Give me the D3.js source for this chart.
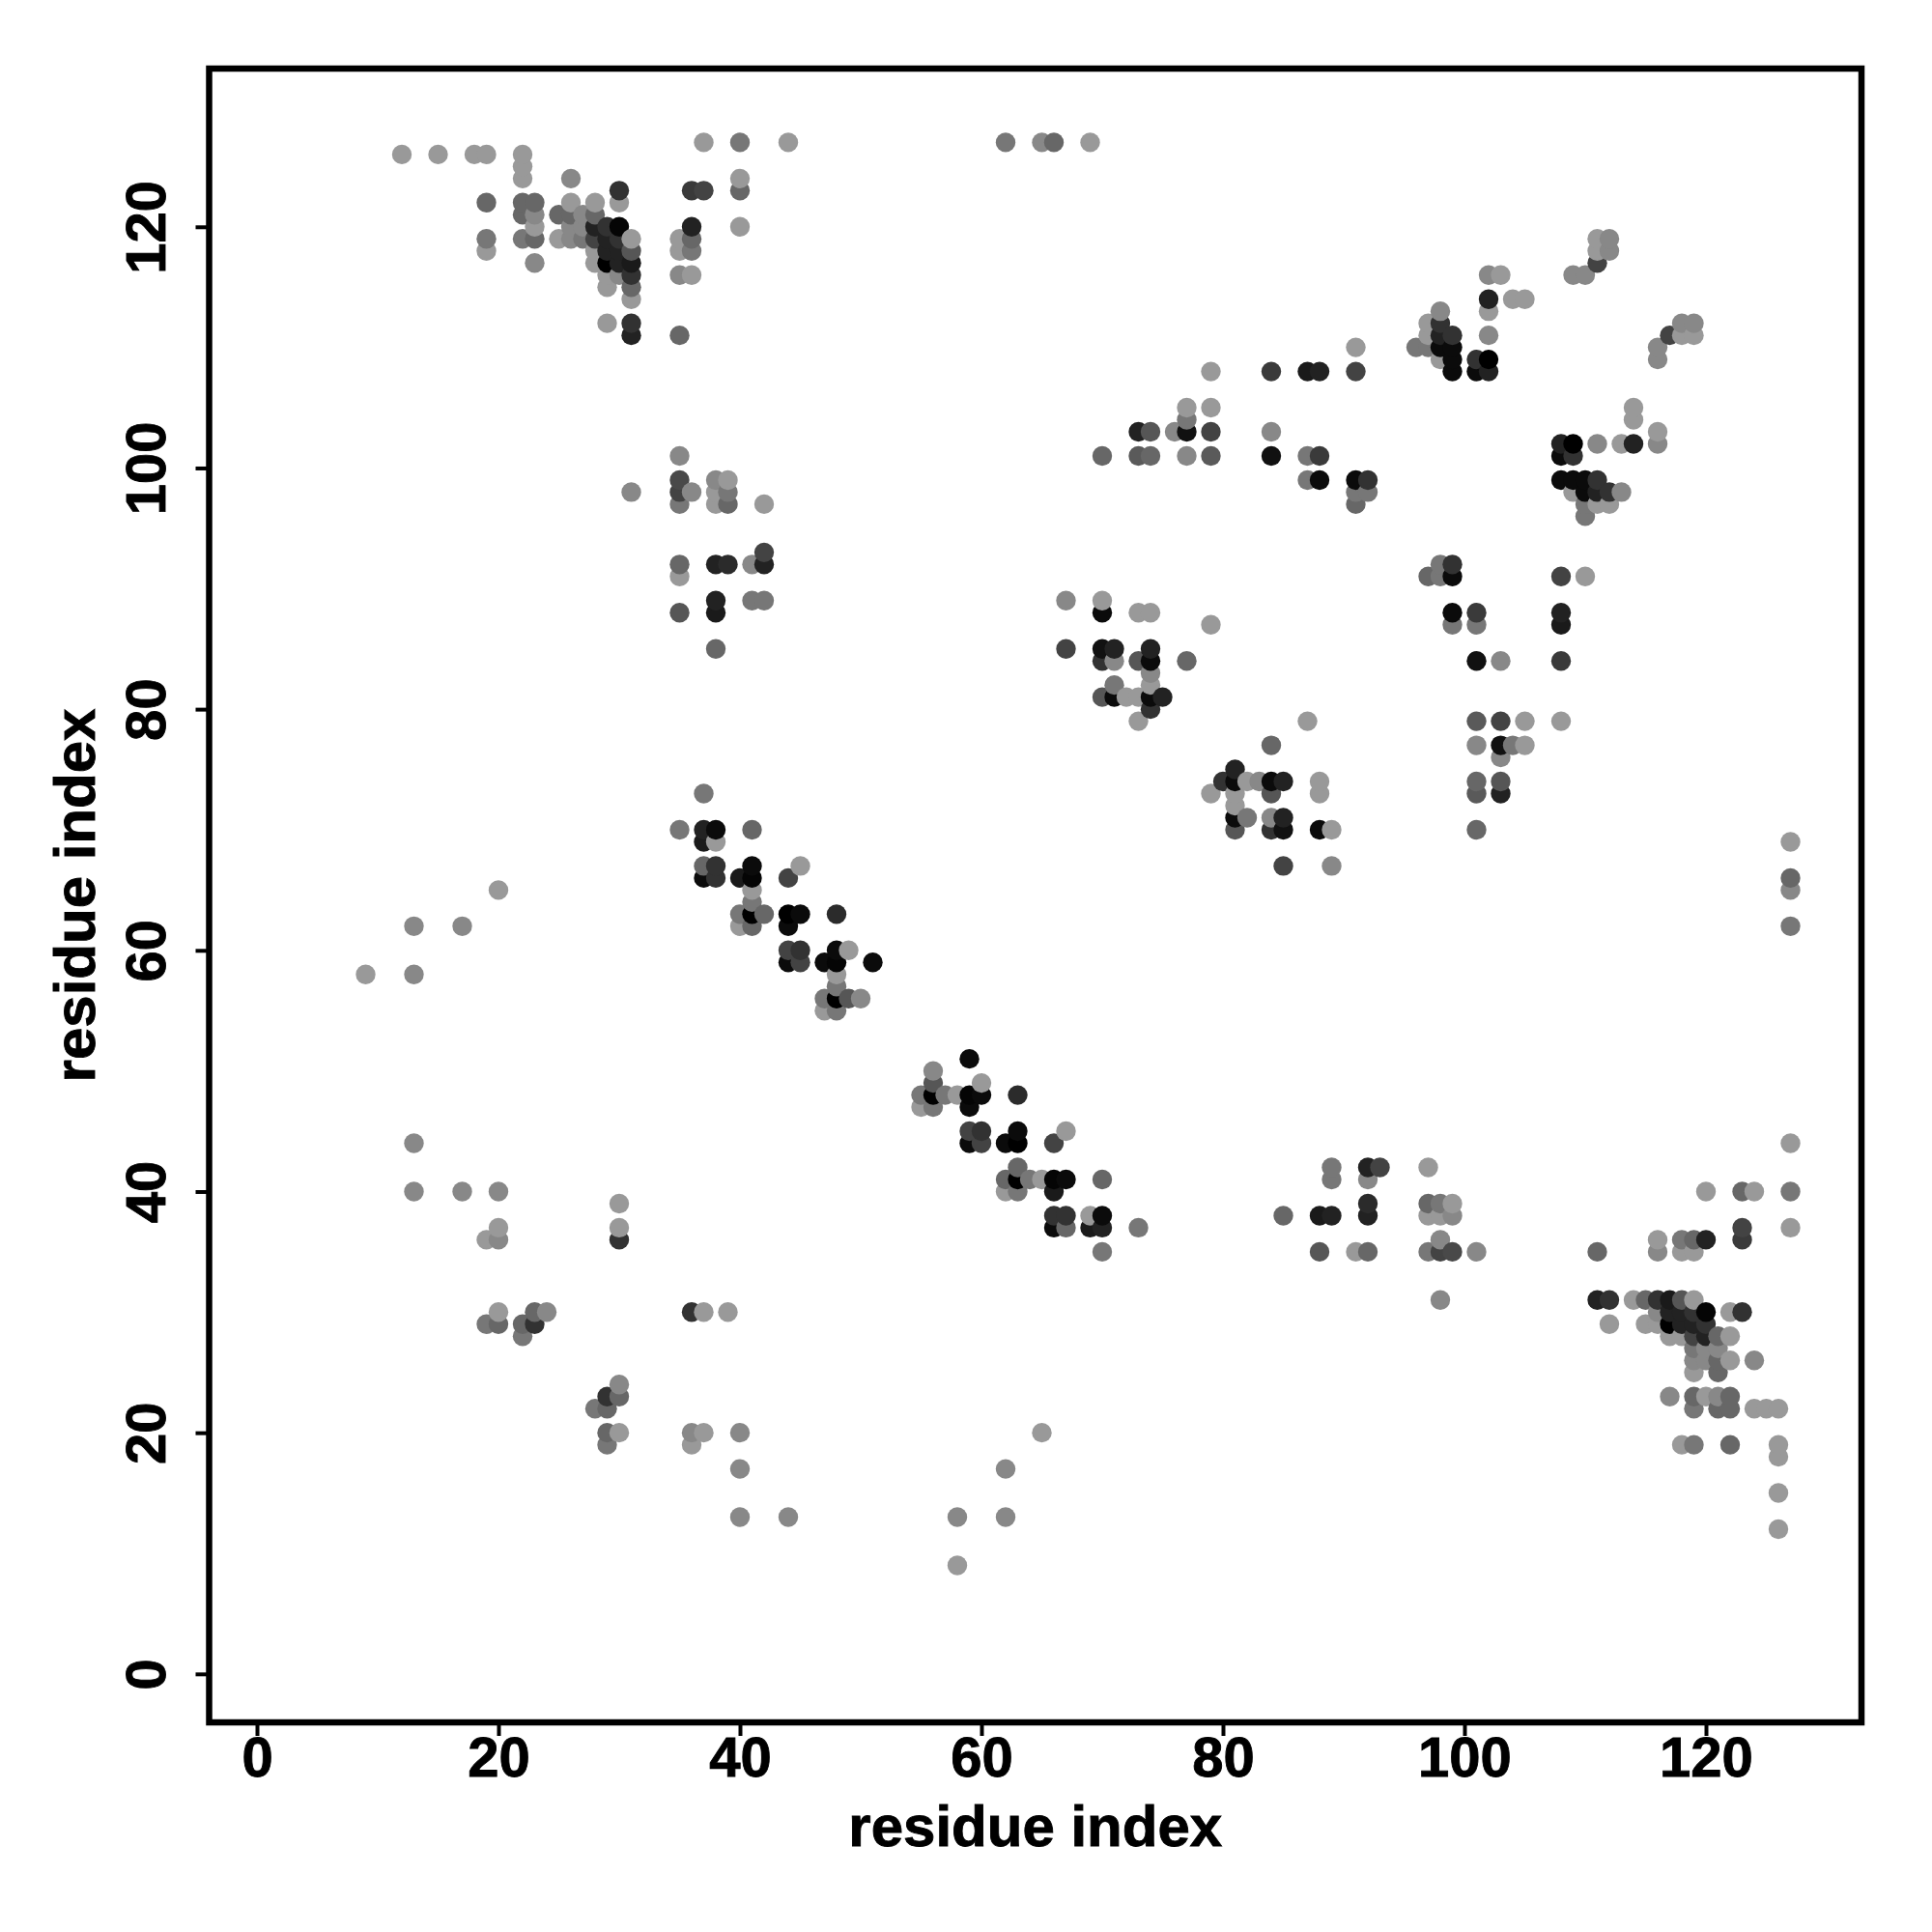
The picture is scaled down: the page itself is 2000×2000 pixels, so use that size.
<!DOCTYPE html>
<html>
<head>
<meta charset="utf-8">
<script src="https://cdn.jsdelivr.net/npm/d3@7"></script>
<style>html,body{margin:0;padding:0;background:#fff}svg{display:block}</style>
</head>
<body>
<svg id="chart" width="2000" height="2000"></svg>
<script>
const tickValues = [0, 20, 40, 60, 80, 100, 120];
const xLabel = "residue index";
const yLabel = "residue index";

const residueI = [
37,40,44,62,65,66,69,
12,15,18,19,22,
22,
22,26,40,
30,36,37,40,
19,22,23,26,28,30,
22,23,25,26,27,28,
23,26,27,28,29,30,36,40,
19,22,23,25,26,27,28,29,30,31,35,36,111,112,
19,28,29,30,31,35,36,111,112,
23,28,29,30,31,111,
29,30,31,35,36,102,103,109,110,
29,31,
31,102,104,105,
98,102,
29,31,97,98,
31,35,97,98,99,102,
91,96,97,98,99,
98,99,101,102,
79,84,87,88,91,99,101,102,
77,79,
77,
73,74,76,77,79,84,
35,70,73,74,77,79,84,87,88,
35,38,39,87,88,91,92,
31,35,36,38,39,91,92,
35,38,39,42,91,
42,
35,38,39,41,42,
35,
38,41,42,67,70,
35,38,70,73,74,
79,
38,67,70,71,74,
70,71,73,74,77,
74,
71,74,
70,71,72,73,74,75,
74,
73,
37,
35,37,38,41,
37,38,
37,38,41,45,
37,38,40,41,44,
20,41,
41,
40,41,42,44,45,48,
13,17,40,41,44,
44,45,48,49,
44,45,47,48,51,
9,13,48,
48,
47,48,49,50,
47,48,
13,
13,17,20,
30,
20,30,
19,20,30,
20,23,24,
19,20,22,23,
22
];
const residueJ = [
127,127,127,127,127,127,127,
126,126,126,126,126,
125,
124,124,124,
123,123,123,123,
122,122,122,122,122,122,
121,121,121,121,121,121,
120,120,120,120,120,120,120,120,
119,119,119,119,119,119,119,119,119,119,119,119,119,119,
118,118,118,118,118,118,118,118,118,
117,117,117,117,117,117,
116,116,116,116,116,116,116,116,116,
115,115,
114,114,114,114,
113,113,
112,112,112,112,
111,111,111,111,111,111,
110,110,110,110,110,
109,109,109,109,
108,108,108,108,108,108,108,108,
105,105,
104,
103,103,103,103,103,103,
101,101,101,101,101,101,101,101,101,
99,99,99,99,99,99,99,
98,98,98,98,98,98,98,
97,97,97,97,97,
93,
92,92,92,92,92,
91,
89,89,89,89,89,
88,88,88,88,88,
87,
85,85,85,85,85,
84,84,84,84,84,
83,
82,82,
81,81,81,81,81,81,
80,
79,
73,
70,70,70,70,
69,69,
67,67,67,67,
66,66,66,66,66,
65,65,
64,
63,63,63,63,63,63,
62,62,62,62,62,
60,60,60,60,
59,59,59,59,59,
58,58,58,
57,
56,56,56,56,
55,55,
44,
40,40,40,
39,
37,37,
36,36,36,
30,30,30,
29,29,29,29,
28
];
const contactScore = [
0,.22,0,.22,.11,.33,0,
0,0,0,0,0,
0,
0,.11,0,
.67,.62,.56,.33,
.33,.33,.33,0,0,0,
.33,.11,.33,.33,.11,.33,
0,.11,.11,.78,.67,.97,.78,0,
.22,.22,.33,0,.11,.22,.56,.78,.67,0,0,.33,0,.11,
0,0,.78,.78,.44,0,.22,0,.11,
.11,0,1,.78,.83,.56,
0,.11,.67,.11,0,.11,0,.11,.11,
0,.33,
0,.78,0,0,
.11,0,
0,.67,0,.67,
.78,.33,0,.78,.67,.11,
0,.22,.22,.93,.93,
0,.93,.67,1,
0,.62,.83,.78,.56,.93,.93,.78,
0,0,
.22,
.78,.44,.11,.89,.56,.11,
.11,.33,.41,.33,.11,.41,.89,.22,.62,
.52,.11,0,.22,.93,.93,.67,
.11,.56,.11,0,.22,.22,.22,
.22,0,.33,0,.33,
.56,
.33,.78,.72,.11,.78,
0,
.78,.22,.22,.11,0,
.44,.83,.93,0,0,
0,
.33,.56,.89,.78,.78,
.67,.11,.44,.93,.33,
.11,
.22,0,
.44,.93,0,0,.93,.78,
.67,
0,
.22,
.22,.78,.93,.33,
.83,0,
.33,.67,.93,0,
.93,.67,.83,.97,.56,
0,0,
.22,
.22,1,.33,1,.93,.72,
.11,.11,0,.33,.93,
.56,.67,.93,0,
.93,.56,.93,.97,.93,
0,.11,0,
.22,
.22,1,.44,.11,
0,.22,
.11,
.11,.11,.11,
0,
0,0,
0,.11,.67,
0,.33,.11,
.22,.33,.33,.67,
.22
];

const frame = {left: 216.5, right: 1927, top: 71, bottom: 1783};
const x = d3.scaleLinear().domain([-3.96, 132.88]).range([frame.left, frame.right]);
const y = d3.scaleLinear().domain([-4.02, 133.12]).range([frame.bottom, frame.top]);
const gray = d3.scaleLinear().domain([0, 1]).range([153, 0]);

const points = [];
residueI.forEach((a, k) => {
  points.push({x: a, y: residueJ[k], s: contactScore[k]});
  points.push({x: residueJ[k], y: a, s: contactScore[k]});
});
points.sort((p, q) => d3.ascending(p.x, q.x) || d3.ascending(p.y, q.y));

const svg = d3.select("#chart");
svg.append("g").selectAll("circle").data(points).join("circle")
  .attr("cx", d => x(d.x)).attr("cy", d => y(d.y)).attr("r", 10.2)
  .attr("fill", d => { const g = Math.round(gray(d.s)); return `rgb(${g},${g},${g})`; });

const font = "'Liberation Sans', Arial, sans-serif";
const gx = svg.append("g").attr("transform", `translate(0,${frame.bottom})`)
  .call(d3.axisBottom(x).tickValues(tickValues).tickSize(14).tickPadding(0).tickFormat(d3.format("d")));
const gy = svg.append("g").attr("transform", `translate(${frame.left},0)`)
  .call(d3.axisLeft(y).tickValues(tickValues).tickSize(14).tickPadding(0).tickFormat(d3.format("d")));
[gx, gy].forEach(g => {
  g.select(".domain").remove();
  g.selectAll(".tick line").attr("stroke", "#000").attr("stroke-width", 4);
  g.selectAll("text").attr("font-family", font).attr("font-weight", "bold")
    .attr("font-size", 58).attr("fill", "#000").attr("stroke", "#000").attr("stroke-width", 0.9);
});
gx.selectAll("text").attr("y", 56).attr("dy", 0);
gy.selectAll("text").attr("x", 0).attr("dy", 0).attr("text-anchor", "middle")
  .attr("transform", "translate(-46,0) rotate(-90)");

svg.append("rect").attr("x", frame.left).attr("y", frame.top)
  .attr("width", frame.right - frame.left).attr("height", frame.bottom - frame.top)
  .attr("fill", "none").attr("stroke", "#000").attr("stroke-width", 6.5);

svg.append("text").text(xLabel)
  .attr("x", (frame.left + frame.right) / 2).attr("y", 1911)
  .attr("text-anchor", "middle").attr("font-family", font).attr("font-weight", "bold")
  .attr("font-size", 60).attr("fill", "#000").attr("stroke", "#000").attr("stroke-width", 0.9);
svg.append("text").text(yLabel)
  .attr("transform", `translate(98,${(frame.top + frame.bottom) / 2}) rotate(-90)`)
  .attr("text-anchor", "middle").attr("font-family", font).attr("font-weight", "bold")
  .attr("font-size", 60).attr("fill", "#000").attr("stroke", "#000").attr("stroke-width", 0.9);
</script>
</body>
</html>
